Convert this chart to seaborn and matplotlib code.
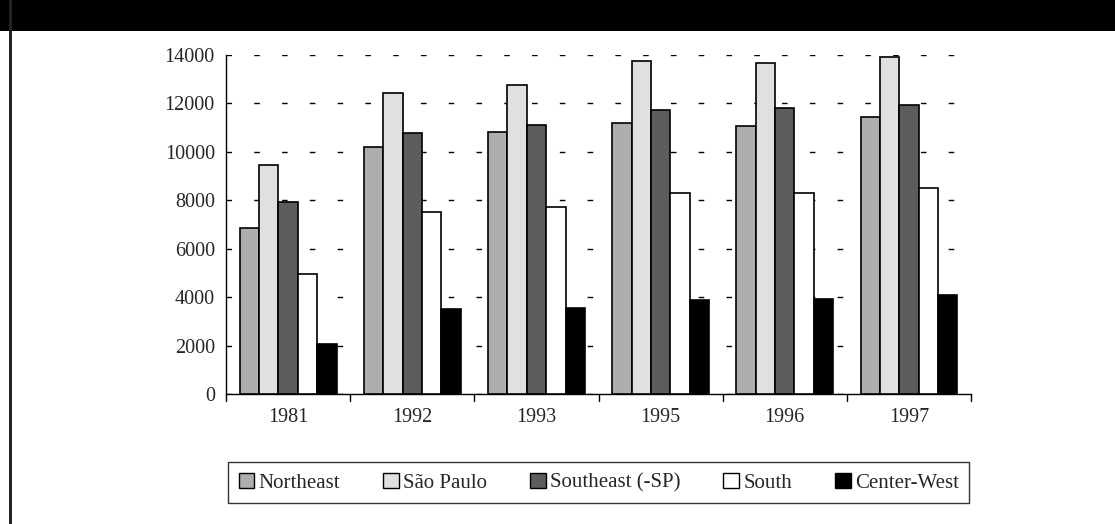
import matplotlib
matplotlib.use("Agg")
import matplotlib.pyplot as plt
from matplotlib.patches import Rectangle
import seaborn as sns
import pandas as pd

years = ["1981", "1992", "1993", "1995", "1996", "1997"]
regions = ["Northeast", "São Paulo", "Southeast (-SP)", "South", "Center-West"]
northeast = [6850, 10200, 10840, 11180, 11070, 11460]
sao_paulo = [9460, 12420, 12760, 13760, 13660, 13910]
southeast = [7920, 10790, 11100, 11730, 11800, 11940]
south = [4940, 7520, 7710, 8290, 8320, 8500]
center_west = [2070, 3510, 3550, 3880, 3910, 4090]
colors = ["#aeaeae", "#e0e0e0", "#5c5c5c", "#ffffff", "#000000"]
yticks = [0, 2000, 4000, 6000, 8000, 10000, 12000, 14000]

series = [northeast, sao_paulo, southeast, south, center_west]
df = pd.DataFrame(
    [(y, r, v[i]) for r, v in zip(regions, series) for i, y in enumerate(years)],
    columns=["year", "region", "value"],
)

sns.set_style("white")
plt.rcParams["font.family"] = ["Liberation Serif", "DejaVu Serif"]

fig = plt.figure(figsize=(11.15, 5.24), dpi=100)
ax = fig.add_axes([0.2027, 0.2481, 0.6682, 0.6469])

sns.barplot(
    data=df, x="year", y="value", hue="region", order=years, hue_order=regions,
    palette=colors, width=0.78, edgecolor="black", linewidth=1.2,
    saturation=1, ax=ax, legend=False, zorder=3,
)

ax.set_ylim(0, 14000)
ax.set_xlim(-0.5, len(years) - 0.5)
ax.set_yticks(yticks)
ax.set_yticklabels([str(t) for t in yticks], fontsize=14.5)
ax.set_xticks([i for i in range(len(years))])
ax.set_xticklabels(years, fontsize=14.5)
ax.tick_params(axis="x", length=0, pad=10)
ax.tick_params(axis="y", length=6, width=1, color="black", direction="out", pad=2)
# category separators along the baseline
for b in [i - 0.5 for i in range(len(years) + 1)]:
    ax.plot([b, b], [0, -300], color="black", lw=1, clip_on=False, zorder=4)
ax.set_xlabel("")
ax.set_ylabel("")

ax.yaxis.grid(True, color="black", linestyle=(0, (4, 16)), linewidth=1, zorder=0)
ax.xaxis.grid(False)
ax.set_axisbelow(True)
for s in ["top", "right"]:
    ax.spines[s].set_visible(False)
for s in ["left", "bottom"]:
    ax.spines[s].set_color("black")
    ax.spines[s].set_linewidth(1)

handles = [Rectangle((0, 0), 1, 1, facecolor=c, edgecolor="black", linewidth=1)
           for c in colors]
leg = fig.legend(
    handles, regions, loc="center", bbox_to_anchor=(0.537, 0.079), ncol=5,
    fontsize=15, frameon=True, fancybox=False, edgecolor="black",
    handlelength=0.75, handleheight=0.75, handletextpad=0.2, columnspacing=2.07,
    borderpad=0.5,
)
leg.get_frame().set_linewidth(1)

# page frame: dark band along the top and a rule down the left edge
fig.patches.append(Rectangle((0, 1 - 31 / 524), 1, 31 / 524, transform=fig.transFigure,
                             facecolor="black", edgecolor="none", zorder=10))
fig.patches.append(Rectangle((9 / 1115, 0), 2.5 / 1115, 1, transform=fig.transFigure,
                             facecolor="#222222", edgecolor="none", zorder=10))

fig.savefig("out.png", dpi=100, facecolor="white")
